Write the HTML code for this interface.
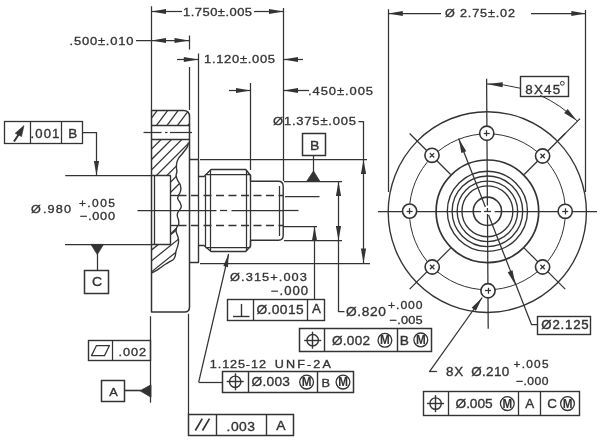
<!DOCTYPE html>
<html><head><meta charset="utf-8"><style>
html,body{margin:0;padding:0;background:#fff;}
svg{display:block;}
text{font-family:"Liberation Sans",sans-serif;}
</style></head><body>
<svg width="600" height="441" viewBox="0 0 600 441"><defs><filter id="g0" x="0" y="0" width="1" height="1" color-interpolation-filters="sRGB"><feColorMatrix type="saturate" values="0"/></filter></defs><g filter="url(#g0)">
<rect width="600" height="441" fill="#fff"/>
<line x1="151.5" y1="6.3" x2="151.5" y2="110.4" stroke="#333" stroke-width="1.25"/>
<line x1="283.5" y1="8" x2="283.5" y2="181" stroke="#333" stroke-width="1.25"/>
<line x1="189.5" y1="35.5" x2="189.5" y2="49.5" stroke="#333" stroke-width="1.25"/>
<line x1="189.5" y1="67" x2="189.5" y2="110" stroke="#333" stroke-width="1.25"/>
<line x1="198.5" y1="53.5" x2="198.5" y2="159" stroke="#333" stroke-width="1.25"/>
<line x1="250.5" y1="83" x2="250.5" y2="170" stroke="#333" stroke-width="1.25"/>
<line x1="151.5" y1="11.5" x2="182" y2="11.5" stroke="#333" stroke-width="1.25"/>
<polygon points="151.50,11.50 166.00,8.90 166.00,14.10" fill="#333"/>
<line x1="254" y1="11.5" x2="283.5" y2="11.5" stroke="#333" stroke-width="1.25"/>
<polygon points="283.50,11.50 269.00,14.10 269.00,8.90" fill="#333"/>
<g transform="translate(183.10000000000002,16.1) scale(1.1,1)"><text x="0" y="0" font-size="11.77" fill="#333" stroke="#333" stroke-width="0.32" text-anchor="start" font-weight="normal" textLength="62.64" lengthAdjust="spacing">1.750±.005</text></g>
<line x1="136" y1="40.5" x2="189" y2="40.5" stroke="#333" stroke-width="1.25"/>
<polygon points="151.50,40.50 166.00,37.90 166.00,43.10" fill="#333"/>
<polygon points="189.00,40.50 174.50,43.10 174.50,37.90" fill="#333"/>
<g transform="translate(69.5,44.8) scale(1.1,1)"><text x="0" y="0" font-size="11.77" fill="#333" stroke="#333" stroke-width="0.32" text-anchor="start" font-weight="normal" textLength="58.18" lengthAdjust="spacing">.500±.010</text></g>
<line x1="177" y1="59.5" x2="198.3" y2="59.5" stroke="#333" stroke-width="1.25"/>
<polygon points="198.30,59.50 183.80,62.10 183.80,56.90" fill="#333"/>
<line x1="283.5" y1="59.5" x2="303" y2="59.5" stroke="#333" stroke-width="1.25"/>
<polygon points="283.50,59.50 298.00,56.90 298.00,62.10" fill="#333"/>
<g transform="translate(204.0,62.6) scale(1.1,1)"><text x="0" y="0" font-size="11.77" fill="#333" stroke="#333" stroke-width="0.32" text-anchor="start" font-weight="normal" textLength="64.55" lengthAdjust="spacing">1.120±.005</text></g>
<line x1="229" y1="90.5" x2="250.5" y2="90.5" stroke="#333" stroke-width="1.25"/>
<polygon points="250.50,90.50 236.00,93.10 236.00,87.90" fill="#333"/>
<line x1="283.5" y1="90.5" x2="309" y2="90.5" stroke="#333" stroke-width="1.25"/>
<polygon points="283.50,90.50 298.00,87.90 298.00,93.10" fill="#333"/>
<g transform="translate(308.0,95.0) scale(1.1,1)"><text x="0" y="0" font-size="11.77" fill="#333" stroke="#333" stroke-width="0.32" text-anchor="start" font-weight="normal" textLength="59.09" lengthAdjust="spacing">.450±.005</text></g>
<g transform="translate(273.0,125.0) scale(1.1,1)"><text x="0" y="0" font-size="11.77" fill="#333" stroke="#333" stroke-width="0.32" text-anchor="start" font-weight="normal" textLength="75.45" lengthAdjust="spacing">Ø1.375±.005</text></g>
<polyline points="358.5,121.5 363.5,121.5 363.5,263" fill="none" stroke="#333" stroke-width="1.25" stroke-linejoin="round"/>
<polygon points="363.50,159.60 366.10,174.10 360.90,174.10" fill="#333"/>
<polygon points="363.50,263.00 360.90,248.50 366.10,248.50" fill="#333"/>
<line x1="200" y1="159.5" x2="367" y2="159.5" stroke="#333" stroke-width="1.25"/>
<line x1="200" y1="263.5" x2="370" y2="263.5" stroke="#333" stroke-width="1.25"/>
<line x1="284" y1="181.5" x2="342" y2="181.5" stroke="#333" stroke-width="1.25"/>
<line x1="284" y1="240.5" x2="342" y2="240.5" stroke="#333" stroke-width="1.25"/>
<polyline points="338.5,181.5 338.5,311.5 344.5,311.5" fill="none" stroke="#333" stroke-width="1.25" stroke-linejoin="round"/>
<polygon points="338.50,181.50 341.10,196.00 335.90,196.00" fill="#333"/>
<polygon points="338.50,240.50 335.90,226.00 341.10,226.00" fill="#333"/>
<g transform="translate(345.9,315.9) scale(1.1,1)"><text x="0" y="0" font-size="12.50" fill="#333" stroke="#333" stroke-width="0.32" text-anchor="start" font-weight="normal" textLength="36.36" lengthAdjust="spacing">Ø.820</text></g>
<g transform="translate(388.0,308.7) scale(1.1,1)"><text x="0" y="0" font-size="11.05" fill="#333" stroke="#333" stroke-width="0.32" text-anchor="start" font-weight="normal" textLength="31.45" lengthAdjust="spacing">+.000</text></g>
<g transform="translate(389.5,324.4) scale(1.1,1)"><text x="0" y="0" font-size="11.63" fill="#333" stroke="#333" stroke-width="0.32" text-anchor="start" font-weight="normal" textLength="30.09" lengthAdjust="spacing">−.005</text></g>
<line x1="285" y1="196.5" x2="319.5" y2="196.5" stroke="#333" stroke-width="1.25"/>
<line x1="283" y1="226.5" x2="317" y2="226.5" stroke="#333" stroke-width="1.25"/>
<line x1="314.5" y1="226.5" x2="314.5" y2="299" stroke="#333" stroke-width="1.25"/>
<polygon points="314.50,226.50 317.10,241.00 311.90,241.00" fill="#333"/>
<line x1="283" y1="210.5" x2="298.5" y2="210.5" stroke="#333" stroke-width="1.25"/>
<g transform="translate(230.10000000000002,280.7) scale(1.1,1)"><text x="0" y="0" font-size="11.63" fill="#333" stroke="#333" stroke-width="0.32" text-anchor="start" font-weight="normal" textLength="69.82" lengthAdjust="spacing">Ø.315+.003</text></g>
<g transform="translate(271.0,294.5) scale(1.1,1)"><text x="0" y="0" font-size="11.92" fill="#333" stroke="#333" stroke-width="0.32" text-anchor="start" font-weight="normal" textLength="33.64" lengthAdjust="spacing">−.000</text></g>
<rect x="302.5" y="133.5" width="23.0" height="22.0" fill="none" stroke="#333" stroke-width="1.5"/>
<g transform="translate(314.8,150.0) scale(1.1,1)"><text x="0" y="0" font-size="12.79" fill="#333" stroke="#333" stroke-width="0.35" text-anchor="middle" font-weight="normal">B</text></g>
<line x1="313.5" y1="156" x2="313.5" y2="172" stroke="#333" stroke-width="1.25"/>
<polygon points="313.5,171 306.5,181.5 320,181.5" fill="#333" stroke="#333" stroke-width="0.8" stroke-linejoin="round"/>
<line x1="137.5" y1="210.5" x2="216.5" y2="210.5" stroke="#333" stroke-width="1.25"/>
<line x1="220" y1="210.5" x2="227" y2="210.5" stroke="#333" stroke-width="1.25"/>
<line x1="231.5" y1="210.5" x2="283.2" y2="210.5" stroke="#333" stroke-width="1.25"/>
<path d="M151.5,110.5 L183.5,110.5 Q189.5,110.5 189.5,116.5 L189.5,307.0 Q189.5,312.0 184.5,312.0 L151.5,312.0 Z" fill="none" stroke="#333" stroke-width="1.5" stroke-linejoin="round"/>
<line x1="151.5" y1="125.5" x2="189.5" y2="125.5" stroke="#333" stroke-width="1.5"/>
<line x1="151.5" y1="139.5" x2="189.5" y2="139.5" stroke="#333" stroke-width="1.5"/>
<line x1="143.5" y1="132.5" x2="161.5" y2="132.5" stroke="#333" stroke-width="1.25"/>
<line x1="165" y1="132.5" x2="167.5" y2="132.5" stroke="#333" stroke-width="1.25"/>
<line x1="170" y1="132.5" x2="192" y2="132.5" stroke="#333" stroke-width="1.25"/>
<line x1="154.5" y1="175.6" x2="154.5" y2="244.3" stroke="#333" stroke-width="1.3"/>
<line x1="170.5" y1="175.6" x2="170.5" y2="244.3" stroke="#333" stroke-width="1.4"/>
<line x1="151.5" y1="175.5" x2="170.8" y2="175.5" stroke="#333" stroke-width="1.5"/>
<line x1="151.5" y1="244.5" x2="170.8" y2="244.5" stroke="#333" stroke-width="1.5"/>
<path d="M188.50,142.50 C188.28,143.27 188.20,145.27 187.20,147.10 C186.20,148.93 183.95,151.63 182.50,153.50 C181.05,155.37 179.43,156.85 178.50,158.30 C177.57,159.75 177.25,160.75 176.90,162.20 C176.55,163.65 176.40,165.42 176.40,167.00 C176.40,168.58 176.95,170.25 176.90,171.70 C176.85,173.15 175.97,174.23 176.10,175.70 C176.23,177.17 177.03,179.05 177.70,180.50 C178.37,181.95 179.57,183.08 180.10,184.40 C180.63,185.72 180.90,187.07 180.90,188.40 C180.90,189.73 180.50,191.20 180.10,192.40 C179.70,193.60 178.90,194.55 178.50,195.60 C178.10,196.65 177.43,197.52 177.70,198.70 C177.97,199.88 179.50,201.37 180.10,202.70 C180.70,204.03 181.40,205.48 181.30,206.70 C181.20,207.92 180.12,208.95 179.50,210.00 C178.88,211.05 177.95,211.92 177.60,213.00 C177.25,214.08 177.23,215.28 177.40,216.50 C177.57,217.72 178.40,218.95 178.60,220.30 C178.80,221.65 178.88,223.47 178.60,224.60 C178.32,225.73 177.32,225.97 176.90,227.10 C176.48,228.23 175.95,229.83 176.10,231.40 C176.25,232.97 177.38,234.95 177.80,236.50 C178.22,238.05 178.60,239.15 178.60,240.70 C178.60,242.25 178.22,244.10 177.80,245.80 C177.38,247.50 176.53,249.20 176.10,250.90 C175.67,252.60 175.63,254.58 175.20,256.00 C174.77,257.42 174.35,258.52 173.50,259.40 C172.65,260.28 171.52,260.45 170.10,261.30 C168.68,262.15 166.68,263.38 165.00,264.50 C163.32,265.62 161.57,266.93 160.00,268.00 C158.43,269.07 157.02,270.07 155.60,270.90 C154.18,271.73 152.18,272.65 151.50,273.00" fill="none" stroke="#333" stroke-width="1.35" stroke-linejoin="round"/>
<line x1="170.8" y1="195.5" x2="178.6" y2="195.5" stroke="#333" stroke-width="1.4"/>
<line x1="170.8" y1="225.5" x2="178.4" y2="225.5" stroke="#333" stroke-width="1.4"/>
<clipPath id="h1"><path d="M151.5,110.5 L183.5,110.5 Q189.5,110.5 189.5,116.5 L189.5,125.4 L151.5,125.4 Z"/></clipPath>
<g clip-path="url(#h1)"><line x1="123.71" y1="155.30" x2="168.49" y2="95.30" stroke="#333" stroke-width="1.25"/><line x1="134.21" y1="155.30" x2="178.99" y2="95.30" stroke="#333" stroke-width="1.25"/><line x1="144.71" y1="155.30" x2="189.49" y2="95.30" stroke="#333" stroke-width="1.25"/><line x1="155.21" y1="155.30" x2="199.99" y2="95.30" stroke="#333" stroke-width="1.25"/><line x1="165.71" y1="155.30" x2="210.49" y2="95.30" stroke="#333" stroke-width="1.25"/></g>
<clipPath id="h2"><path d="M151.5,139.9 L185.5,139.9 Q188.5,139.9 188.5,142.5 C188.28,143.27 188.20,145.27 187.20,147.10 C186.20,148.93 183.95,151.63 182.50,153.50 C181.05,155.37 179.43,156.85 178.50,158.30 C177.57,159.75 177.25,160.75 176.90,162.20 C176.55,163.65 176.40,165.42 176.40,167.00 C176.40,168.58 176.95,170.25 176.90,171.70 C176.85,173.15 175.97,174.23 176.10,175.70 C176.23,177.17 177.03,179.05 177.70,180.50 C178.37,181.95 179.57,183.08 180.10,184.40 C180.63,185.72 180.90,187.07 180.90,188.40 C180.90,189.73 180.50,191.20 180.10,192.40 C179.70,193.60 178.77,195.07 178.50,195.60 L178.5,195.7 L170.8,195.7 L170.8,175.6 L151.5,175.6 Z"/></clipPath>
<g clip-path="url(#h2)"><line x1="0.60" y1="300.00" x2="200.60" y2="100.00" stroke="#333" stroke-width="1.25"/><line x1="11.00" y1="300.00" x2="211.00" y2="100.00" stroke="#333" stroke-width="1.25"/><line x1="21.30" y1="300.00" x2="221.30" y2="100.00" stroke="#333" stroke-width="1.25"/><line x1="31.80" y1="300.00" x2="231.80" y2="100.00" stroke="#333" stroke-width="1.25"/><line x1="42.30" y1="300.00" x2="242.30" y2="100.00" stroke="#333" stroke-width="1.25"/><line x1="52.60" y1="300.00" x2="252.60" y2="100.00" stroke="#333" stroke-width="1.25"/><line x1="63.00" y1="300.00" x2="263.00" y2="100.00" stroke="#333" stroke-width="1.25"/></g>
<clipPath id="h3"><path d="M170.8,225.8 L178.6,225.8 C178.32,225.02 177.32,225.97 176.90,227.10 C176.48,228.23 175.95,229.83 176.10,231.40 C176.25,232.97 177.38,234.95 177.80,236.50 C178.22,238.05 178.60,239.15 178.60,240.70 C178.60,242.25 178.22,244.10 177.80,245.80 C177.38,247.50 176.53,249.20 176.10,250.90 C175.67,252.60 175.63,254.58 175.20,256.00 C174.77,257.42 174.35,258.52 173.50,259.40 C172.65,260.28 171.52,260.45 170.10,261.30 C168.68,262.15 166.68,263.38 165.00,264.50 C163.32,265.62 161.57,266.93 160.00,268.00 C158.43,269.07 157.02,270.07 155.60,270.90 C154.18,271.73 152.18,272.65 151.50,273.00 L151.5,244.3 L170.8,244.3 Z"/></clipPath>
<g clip-path="url(#h3)"><line x1="170.80" y1="233.70" x2="181.00" y2="223.50" stroke="#333" stroke-width="1.25"/><line x1="140.00" y1="259.20" x2="190.00" y2="219.20" stroke="#333" stroke-width="1.25"/><line x1="140.00" y1="270.00" x2="190.00" y2="230.00" stroke="#333" stroke-width="1.25"/><line x1="140.00" y1="281.00" x2="190.00" y2="241.00" stroke="#333" stroke-width="1.25"/></g>
<polyline points="189,159.5 198.5,159.5 198.5,176.5 204,176.5 211,169.5 245.8,169.5 250.5,175.5 250.5,181.3" fill="none" stroke="#333" stroke-width="1.4" stroke-linejoin="round"/>
<polyline points="189,262.5 198.5,262.5 198.5,245.5 204,245.5 211,251.5 245.8,251.5 250.5,246 250.5,240.2" fill="none" stroke="#333" stroke-width="1.4" stroke-linejoin="round"/>
<line x1="198.5" y1="176.5" x2="198.5" y2="245.5" stroke="#333" stroke-width="1.3"/>
<line x1="205.5" y1="174.5" x2="250.6" y2="174.5" stroke="#333" stroke-width="1.25"/>
<line x1="205.5" y1="247.5" x2="250.6" y2="247.5" stroke="#333" stroke-width="1.25"/>
<line x1="205.5" y1="176" x2="205.5" y2="246" stroke="#333" stroke-width="1.25"/>
<line x1="210.5" y1="170" x2="210.5" y2="251" stroke="#333" stroke-width="1.25"/>
<line x1="246.5" y1="170" x2="246.5" y2="251" stroke="#333" stroke-width="1.25"/>
<line x1="250.5" y1="175.5" x2="250.5" y2="246" stroke="#333" stroke-width="1.3"/>
<path d="M250.6,181.3 L278.5,181.3 Q283.2,181.3 283.2,186.5 L283.2,235 Q283.2,240.2 278.5,240.2 L250.6,240.2" fill="none" stroke="#333" stroke-width="1.4" stroke-linejoin="round"/>
<line x1="279.5" y1="186" x2="279.5" y2="236" stroke="#333" stroke-width="1.25"/>
<line x1="178.5" y1="195.5" x2="283.2" y2="195.5" stroke="#333" stroke-width="1.3" stroke-dasharray="8 4.5"/>
<line x1="178.5" y1="225.5" x2="283.2" y2="225.5" stroke="#333" stroke-width="1.3" stroke-dasharray="8 4.5"/>
<rect x="4.5" y="121.5" width="78.0" height="22.0" fill="none" stroke="#333" stroke-width="1.3"/>
<line x1="30.5" y1="121.6" x2="30.5" y2="143.3" stroke="#333" stroke-width="1.25"/>
<line x1="61.5" y1="121.6" x2="61.5" y2="143.3" stroke="#333" stroke-width="1.25"/>
<line x1="14" y1="141.5" x2="19" y2="134" stroke="#333" stroke-width="2.0"/>
<polygon points="24,125.5 15.2,133.3 21.5,136.5" fill="#333" stroke="#333" stroke-width="0.6" stroke-linejoin="round"/>
<g transform="translate(30.6,137.6) scale(1.1,1)"><text x="0" y="0" font-size="11.92" fill="#333" stroke="#333" stroke-width="0.32" text-anchor="start" font-weight="normal" textLength="26.18" lengthAdjust="spacing">.001</text></g>
<g transform="translate(72.8,137.7) scale(1.1,1)"><text x="0" y="0" font-size="12.21" fill="#333" stroke="#333" stroke-width="0.35" text-anchor="middle" font-weight="normal">B</text></g>
<polyline points="82.7,132.5 96.5,132.5 96.5,175.5" fill="none" stroke="#333" stroke-width="1.25" stroke-linejoin="round"/>
<polygon points="96.50,175.50 93.90,161.00 99.10,161.00" fill="#333"/>
<line x1="65.3" y1="175.5" x2="151.2" y2="175.5" stroke="#333" stroke-width="1.25"/>
<g transform="translate(30.9,213.3) scale(1.1,1)"><text x="0" y="0" font-size="11.48" fill="#333" stroke="#333" stroke-width="0.32" text-anchor="start" font-weight="normal" textLength="-1.36" lengthAdjust="spacing">Ø</text></g>
<g transform="translate(42.900000000000006,213.3) scale(1.1,1)"><text x="0" y="0" font-size="11.48" fill="#333" stroke="#333" stroke-width="0.32" text-anchor="start" font-weight="normal" textLength="25.45" lengthAdjust="spacing">.980</text></g>
<g transform="translate(78.9,206.7) scale(1.1,1)"><text x="0" y="0" font-size="10.90" fill="#333" stroke="#333" stroke-width="0.32" text-anchor="start" font-weight="normal" textLength="32.82" lengthAdjust="spacing">+.005</text></g>
<g transform="translate(79.9,219.7) scale(1.1,1)"><text x="0" y="0" font-size="11.63" fill="#333" stroke="#333" stroke-width="0.32" text-anchor="start" font-weight="normal" textLength="31.91" lengthAdjust="spacing">−.000</text></g>
<line x1="65" y1="244.5" x2="151.2" y2="244.5" stroke="#333" stroke-width="1.25"/>
<polygon points="91,244.4 103.5,244.4 97.3,254.5" fill="#333" stroke="#333" stroke-width="0.8" stroke-linejoin="round"/>
<line x1="97.5" y1="254" x2="97.5" y2="270.3" stroke="#333" stroke-width="1.25"/>
<rect x="84.5" y="270.5" width="24.0" height="23.0" fill="none" stroke="#333" stroke-width="1.5"/>
<g transform="translate(97.1,286.1) scale(1.1,1)"><text x="0" y="0" font-size="12.79" fill="#333" stroke="#333" stroke-width="0.35" text-anchor="middle" font-weight="normal">C</text></g>
<line x1="150.5" y1="316.3" x2="150.5" y2="402.7" stroke="#333" stroke-width="1.25"/>
<rect x="88.5" y="340.5" width="62.0" height="20.0" fill="none" stroke="#333" stroke-width="1.4"/>
<line x1="112.5" y1="340.4" x2="112.5" y2="360.4" stroke="#333" stroke-width="1.25"/>
<polygon points="91.5,355.6 96.5,345.5 109.5,345.5 104.5,355.6" fill="none" stroke="#333" stroke-width="1.25" stroke-linejoin="round"/>
<g transform="translate(118.6,355.7) scale(1.1,1)"><text x="0" y="0" font-size="11.63" fill="#333" stroke="#333" stroke-width="0.32" text-anchor="start" font-weight="normal" textLength="25.00" lengthAdjust="spacing">.002</text></g>
<rect x="101.5" y="380.5" width="23.0" height="21.0" fill="none" stroke="#333" stroke-width="1.5"/>
<g transform="translate(113.6,395.7) scale(1.1,1)"><text x="0" y="0" font-size="11.63" fill="#333" stroke="#333" stroke-width="0.3" text-anchor="middle" font-weight="normal">A</text></g>
<line x1="124.5" y1="390.5" x2="141" y2="390.5" stroke="#333" stroke-width="1.6"/>
<polygon points="151,384.8 151,397.2 140,390.8" fill="#333" stroke="#333" stroke-width="0.8" stroke-linejoin="round"/>
<line x1="188.5" y1="313.8" x2="188.5" y2="415" stroke="#333" stroke-width="1.25"/>
<rect x="188.5" y="414.5" width="105.0" height="21.0" fill="none" stroke="#333" stroke-width="1.5"/>
<line x1="216.5" y1="414.7" x2="216.5" y2="435.2" stroke="#333" stroke-width="1.4"/>
<line x1="266.5" y1="414.7" x2="266.5" y2="435.2" stroke="#333" stroke-width="1.4"/>
<line x1="195.3" y1="430.5" x2="202.3" y2="418.6" stroke="#333" stroke-width="1.7"/>
<line x1="202.5" y1="430.5" x2="209.5" y2="418.6" stroke="#333" stroke-width="1.7"/>
<g transform="translate(226.60000000000002,430.9) scale(1.1,1)"><text x="0" y="0" font-size="12.65" fill="#333" stroke="#333" stroke-width="0.32" text-anchor="start" font-weight="normal" textLength="25.82" lengthAdjust="spacing">.003</text></g>
<g transform="translate(280.9,429.8) scale(1.1,1)"><text x="0" y="0" font-size="12.65" fill="#333" stroke="#333" stroke-width="0.35" text-anchor="middle" font-weight="normal">A</text></g>
<rect x="227.5" y="299.5" width="97.0" height="21.0" fill="none" stroke="#333" stroke-width="1.4"/>
<line x1="253.5" y1="299.2" x2="253.5" y2="320.5" stroke="#333" stroke-width="1.3"/>
<line x1="307.5" y1="299.2" x2="307.5" y2="320.5" stroke="#333" stroke-width="1.3"/>
<line x1="233" y1="316.5" x2="249.5" y2="316.5" stroke="#333" stroke-width="1.4"/>
<line x1="241.5" y1="303.9" x2="241.5" y2="316" stroke="#333" stroke-width="1.4"/>
<g transform="translate(256.5,313.6) scale(1.1,1)"><text x="0" y="0" font-size="12.50" fill="#333" stroke="#333" stroke-width="0.32" text-anchor="start" font-weight="normal" textLength="42.82" lengthAdjust="spacing">Ø.0015</text></g>
<g transform="translate(316.3,312.7) scale(1.1,1)"><text x="0" y="0" font-size="12.06" fill="#333" stroke="#333" stroke-width="0.35" text-anchor="middle" font-weight="normal">A</text></g>
<rect x="299.5" y="328.5" width="132.0" height="23.0" fill="none" stroke="#333" stroke-width="1.5"/>
<line x1="324.5" y1="328" x2="324.5" y2="351.5" stroke="#333" stroke-width="1.4"/>
<line x1="397.5" y1="328" x2="397.5" y2="351.5" stroke="#333" stroke-width="1.4"/>
<circle cx="312.7" cy="340.2" r="5.7" fill="none" stroke="#333" stroke-width="1.4"/>
<line x1="304.2" y1="340.5" x2="321.2" y2="340.5" stroke="#333" stroke-width="1.4"/>
<line x1="312.5" y1="331.7" x2="312.5" y2="348.7" stroke="#333" stroke-width="1.4"/>
<g transform="translate(332.0,345.0) scale(1.1,1)"><text x="0" y="0" font-size="12.35" fill="#333" stroke="#333" stroke-width="0.32" text-anchor="start" font-weight="normal" textLength="34.55" lengthAdjust="spacing">Ø.002</text></g>
<circle cx="384.9" cy="340.3" r="6.9" fill="none" stroke="#333" stroke-width="1.3"/>
<g transform="translate(384.9,344.40000000000003) scale(0.98,1)"><text x="0" y="0" font-size="11.92" fill="#333" stroke="#333" stroke-width="0.1" text-anchor="middle" font-weight="bold">M</text></g>
<g transform="translate(404.3,344.9) scale(1.1,1)"><text x="0" y="0" font-size="12.50" fill="#333" stroke="#333" stroke-width="0.35" text-anchor="middle" font-weight="normal">B</text></g>
<circle cx="420.8" cy="339.9" r="6.9" fill="none" stroke="#333" stroke-width="1.3"/>
<g transform="translate(420.8,344.0) scale(0.98,1)"><text x="0" y="0" font-size="11.92" fill="#333" stroke="#333" stroke-width="0.1" text-anchor="middle" font-weight="bold">M</text></g>
<g transform="translate(209.8,368.3) scale(1.1,1)"><text x="0" y="0" font-size="11.48" fill="#333" stroke="#333" stroke-width="0.32" text-anchor="start" font-weight="normal" textLength="51.00" lengthAdjust="spacing">1.125-12</text></g>
<g transform="translate(274.79999999999995,368.3) scale(1.1,1)"><text x="0" y="0" font-size="11.48" fill="#333" stroke="#333" stroke-width="0.32" text-anchor="start" font-weight="normal" textLength="51.00" lengthAdjust="spacing">UNF-2A</text></g>
<line x1="228.6" y1="254" x2="198.7" y2="382.2" stroke="#333" stroke-width="1.25"/>
<polygon points="228.60,254.00 227.98,267.21 223.31,266.12" fill="#333"/>
<line x1="198.7" y1="382.5" x2="222.5" y2="382.5" stroke="#333" stroke-width="1.25"/>
<rect x="222.5" y="371.5" width="131.0" height="21.0" fill="none" stroke="#333" stroke-width="1.5"/>
<line x1="248.5" y1="371.5" x2="248.5" y2="392.0" stroke="#333" stroke-width="1.4"/>
<line x1="317.5" y1="371.5" x2="317.5" y2="392.0" stroke="#333" stroke-width="1.4"/>
<circle cx="235.2" cy="381.8" r="5.7" fill="none" stroke="#333" stroke-width="1.4"/>
<line x1="226.7" y1="381.5" x2="243.7" y2="381.5" stroke="#333" stroke-width="1.4"/>
<line x1="235.5" y1="373.3" x2="235.5" y2="390.3" stroke="#333" stroke-width="1.4"/>
<g transform="translate(251.5,386.4) scale(1.1,1)"><text x="0" y="0" font-size="12.50" fill="#333" stroke="#333" stroke-width="0.32" text-anchor="start" font-weight="normal" textLength="35.00" lengthAdjust="spacing">Ø.003</text></g>
<circle cx="306.6" cy="382.1" r="6.9" fill="none" stroke="#333" stroke-width="1.3"/>
<g transform="translate(306.6,386.20000000000005) scale(0.98,1)"><text x="0" y="0" font-size="11.92" fill="#333" stroke="#333" stroke-width="0.1" text-anchor="middle" font-weight="bold">M</text></g>
<g transform="translate(325.8,386.6) scale(1.1,1)"><text x="0" y="0" font-size="11.63" fill="#333" stroke="#333" stroke-width="0.35" text-anchor="middle" font-weight="normal">B</text></g>
<circle cx="343.0" cy="382.1" r="6.9" fill="none" stroke="#333" stroke-width="1.3"/>
<g transform="translate(343.0,386.20000000000005) scale(0.98,1)"><text x="0" y="0" font-size="11.92" fill="#333" stroke="#333" stroke-width="0.1" text-anchor="middle" font-weight="bold">M</text></g>
<line x1="388.5" y1="9.2" x2="388.5" y2="192" stroke="#333" stroke-width="1.25"/>
<line x1="585.5" y1="10" x2="585.5" y2="192" stroke="#333" stroke-width="1.25"/>
<line x1="388.3" y1="13.5" x2="441" y2="13.5" stroke="#333" stroke-width="1.25"/>
<polygon points="388.30,13.50 402.80,10.90 402.80,16.10" fill="#333"/>
<line x1="531" y1="13.5" x2="585.8" y2="13.5" stroke="#333" stroke-width="1.25"/>
<polygon points="585.80,13.50 571.30,16.10 571.30,10.90" fill="#333"/>
<g transform="translate(445.0,17.3) scale(1.1,1)"><text x="0" y="0" font-size="11.48" fill="#333" stroke="#333" stroke-width="0.32" text-anchor="start" font-weight="normal" textLength="6.73" lengthAdjust="spacing">Ø</text></g>
<g transform="translate(460.0,17.3) scale(1.1,1)"><text x="0" y="0" font-size="11.48" fill="#333" stroke="#333" stroke-width="0.32" text-anchor="start" font-weight="normal" textLength="50.00" lengthAdjust="spacing">2.75±.02</text></g>
<ellipse cx="487.3" cy="212.1" rx="99.1" ry="100.4" fill="none" stroke="#333" stroke-width="1.35"/>
<circle cx="487.4" cy="211.8" r="78.0" fill="none" stroke="#333" stroke-width="1.0"/>
<circle cx="487.4" cy="211.3" r="51.3" fill="none" stroke="#333" stroke-width="1.7"/>
<circle cx="487.4" cy="211.3" r="40.1" fill="none" stroke="#333" stroke-width="1.35"/>
<circle cx="487.4" cy="211.3" r="35.3" fill="none" stroke="#333" stroke-width="1.35"/>
<circle cx="487.4" cy="211.3" r="30.25" fill="none" stroke="#333" stroke-width="1.35"/>
<circle cx="487.4" cy="211.3" r="25.45" fill="none" stroke="#333" stroke-width="1.35"/>
<circle cx="487.4" cy="211.3" r="14.15" fill="none" stroke="#333" stroke-width="1.6"/>
<line x1="486.6" y1="78.7" x2="487.41" y2="205.5" stroke="#333" stroke-width="1.25"/>
<line x1="487.43" y1="208.0" x2="487.45" y2="211.0" stroke="#333" stroke-width="1.25"/>
<line x1="487.47" y1="214.0" x2="488.2" y2="328.8" stroke="#333" stroke-width="1.25"/>
<line x1="378" y1="211.5" x2="481.1" y2="211.5" stroke="#333" stroke-width="1.25"/>
<line x1="483.9" y1="211.5" x2="491.0" y2="211.5" stroke="#333" stroke-width="1.25"/>
<line x1="494.6" y1="211.5" x2="597" y2="211.5" stroke="#333" stroke-width="1.25"/>
<line x1="524.1695526217004" y1="174.53044737829953" x2="565.1817459305203" y2="133.51825406947978" stroke="#333" stroke-width="1.25"/>
<line x1="450.6304473782995" y1="174.53044737829953" x2="409.61825406947975" y2="133.51825406947978" stroke="#333" stroke-width="1.25"/>
<line x1="450.6304473782995" y1="248.0695526217005" x2="409.61825406947975" y2="289.08174593052024" stroke="#333" stroke-width="1.25"/>
<line x1="524.1695526217004" y1="248.0695526217005" x2="565.1817459305202" y2="289.08174593052024" stroke="#333" stroke-width="1.25"/>
<circle cx="486.75" cy="133.25" r="7.1" fill="#fff" stroke="#333" stroke-width="1.6"/>
<line x1="483.75" y1="133.5" x2="489.75" y2="133.5" stroke="#333" stroke-width="1.25"/>
<line x1="486.5" y1="130.25" x2="486.5" y2="136.25" stroke="#333" stroke-width="1.25"/>
<circle cx="542.6" cy="156.0" r="7.1" fill="#fff" stroke="#333" stroke-width="1.6"/>
<line x1="540.4" y1="153.8" x2="544.8000000000001" y2="158.2" stroke="#333" stroke-width="1.25"/>
<line x1="540.4" y1="158.2" x2="544.8000000000001" y2="153.8" stroke="#333" stroke-width="1.25"/>
<circle cx="565.2" cy="211.3" r="7.1" fill="#fff" stroke="#333" stroke-width="1.6"/>
<line x1="562.2" y1="211.5" x2="568.2" y2="211.5" stroke="#333" stroke-width="1.25"/>
<line x1="565.5" y1="208.3" x2="565.5" y2="214.3" stroke="#333" stroke-width="1.25"/>
<circle cx="542.6" cy="267.0" r="7.1" fill="#fff" stroke="#333" stroke-width="1.6"/>
<line x1="540.4" y1="264.8" x2="544.8000000000001" y2="269.2" stroke="#333" stroke-width="1.25"/>
<line x1="540.4" y1="269.2" x2="544.8000000000001" y2="264.8" stroke="#333" stroke-width="1.25"/>
<circle cx="488.0" cy="290.75" r="7.1" fill="#fff" stroke="#333" stroke-width="1.6"/>
<line x1="485.0" y1="290.5" x2="491.0" y2="290.5" stroke="#333" stroke-width="1.25"/>
<line x1="488.5" y1="287.75" x2="488.5" y2="293.75" stroke="#333" stroke-width="1.25"/>
<circle cx="432.2" cy="267.0" r="7.1" fill="#fff" stroke="#333" stroke-width="1.6"/>
<line x1="430.0" y1="264.8" x2="434.4" y2="269.2" stroke="#333" stroke-width="1.25"/>
<line x1="430.0" y1="269.2" x2="434.4" y2="264.8" stroke="#333" stroke-width="1.25"/>
<circle cx="409.6" cy="211.1" r="7.1" fill="#fff" stroke="#333" stroke-width="1.6"/>
<line x1="406.6" y1="211.5" x2="412.6" y2="211.5" stroke="#333" stroke-width="1.25"/>
<line x1="409.5" y1="208.1" x2="409.5" y2="214.1" stroke="#333" stroke-width="1.25"/>
<circle cx="432.0" cy="155.3" r="7.1" fill="#fff" stroke="#333" stroke-width="1.6"/>
<line x1="429.8" y1="153.10000000000002" x2="434.2" y2="157.5" stroke="#333" stroke-width="1.25"/>
<line x1="429.8" y1="157.5" x2="434.2" y2="153.10000000000002" stroke="#333" stroke-width="1.25"/>
<rect x="520.5" y="76.5" width="48.0" height="20.0" fill="none" stroke="#333" stroke-width="1.4"/>
<g transform="translate(525.2,93.6) scale(1.1,1)"><text x="0" y="0" font-size="12.21" fill="#333" stroke="#333" stroke-width="0.32" text-anchor="start" font-weight="normal" textLength="31.91" lengthAdjust="spacing">8X45</text></g>
<circle cx="562.3" cy="83.3" r="1.9" fill="none" stroke="#333" stroke-width="1.0"/>
<path d="M486.73,83.90 A127.4,127.4 0 0 1 520.37,88.24" fill="none" stroke="#333" stroke-width="1.0"/>
<path d="M540.23,95.37 A127.4,127.4 0 0 1 577.17,120.90" fill="none" stroke="#333" stroke-width="1.0"/>
<polygon points="486.73,83.90 502.85,82.17 502.57,87.36" fill="#333"/>
<polygon points="577.17,120.90 564.20,112.93 567.64,109.03" fill="#333"/>
<line x1="558.1106781186547" y1="140.58932188134526" x2="580.0309883354378" y2="118.66901166456229" stroke="#333" stroke-width="1.25"/>
<line x1="458.6" y1="138.6" x2="485.39" y2="207.0" stroke="#333" stroke-width="1.25"/>
<polyline points="488.53,215.0 531.5,324.5 537.5,324.5" fill="none" stroke="#333" stroke-width="1.25" stroke-linejoin="round"/>
<polygon points="458.60,138.60 466.27,151.18 461.42,153.06" fill="#333"/>
<polygon points="515.30,284.80 507.67,272.20 512.52,270.33" fill="#333"/>
<g transform="translate(541.3,329.4) scale(1.1,1)"><text x="0" y="0" font-size="12.06" fill="#333" stroke="#333" stroke-width="0.4" text-anchor="start" font-weight="normal" textLength="43.09" lengthAdjust="spacing">Ø2.125</text></g>
<rect x="537.5" y="316.5" width="53.0" height="18.0" fill="none" stroke="#333" stroke-width="1.4"/>
<line x1="482.2" y1="297.5" x2="429.3" y2="371.9" stroke="#333" stroke-width="1.25"/>
<polygon points="482.20,297.50 475.92,310.82 471.68,307.81" fill="#333"/>
<line x1="429.3" y1="371.5" x2="436.9" y2="371.5" stroke="#333" stroke-width="1.25"/>
<g transform="translate(445.9,376.0) scale(1.1,1)"><text x="0" y="0" font-size="12.21" fill="#333" stroke="#333" stroke-width="0.32" text-anchor="start" font-weight="normal" textLength="15.82" lengthAdjust="spacing">8X</text></g>
<g transform="translate(471.20000000000005,376.0) scale(1.1,1)"><text x="0" y="0" font-size="12.21" fill="#333" stroke="#333" stroke-width="0.32" text-anchor="start" font-weight="normal" textLength="34.55" lengthAdjust="spacing">Ø.210</text></g>
<g transform="translate(513.5999999999999,368.4) scale(1.1,1)"><text x="0" y="0" font-size="10.76" fill="#333" stroke="#333" stroke-width="0.32" text-anchor="start" font-weight="normal" textLength="31.73" lengthAdjust="spacing">+.005</text></g>
<g transform="translate(516.0,384.5) scale(1.1,1)"><text x="0" y="0" font-size="11.05" fill="#333" stroke="#333" stroke-width="0.32" text-anchor="start" font-weight="normal" textLength="29.55" lengthAdjust="spacing">−.000</text></g>
<rect x="423.5" y="391.5" width="156.0" height="24.0" fill="none" stroke="#333" stroke-width="1.4"/>
<line x1="448.5" y1="391.3" x2="448.5" y2="415.5" stroke="#333" stroke-width="1.3"/>
<line x1="518.5" y1="391.3" x2="518.5" y2="415.5" stroke="#333" stroke-width="1.3"/>
<line x1="540.5" y1="391.3" x2="540.5" y2="415.5" stroke="#333" stroke-width="1.3"/>
<circle cx="435.6" cy="403.6" r="5.7" fill="none" stroke="#333" stroke-width="1.4"/>
<line x1="427.1" y1="403.5" x2="444.1" y2="403.5" stroke="#333" stroke-width="1.4"/>
<line x1="435.5" y1="395.1" x2="435.5" y2="412.1" stroke="#333" stroke-width="1.4"/>
<g transform="translate(455.6,408.3) scale(1.1,1)"><text x="0" y="0" font-size="12.50" fill="#333" stroke="#333" stroke-width="0.32" text-anchor="start" font-weight="normal" textLength="33.64" lengthAdjust="spacing">Ø.005</text></g>
<circle cx="507.3" cy="403.6" r="6.9" fill="none" stroke="#333" stroke-width="1.3"/>
<g transform="translate(507.3,407.70000000000005) scale(0.98,1)"><text x="0" y="0" font-size="11.92" fill="#333" stroke="#333" stroke-width="0.1" text-anchor="middle" font-weight="bold">M</text></g>
<g transform="translate(529.8,408.3) scale(1.1,1)"><text x="0" y="0" font-size="12.21" fill="#333" stroke="#333" stroke-width="0.32" text-anchor="middle" font-weight="normal">A</text></g>
<g transform="translate(552,408.3) scale(1.1,1)"><text x="0" y="0" font-size="12.21" fill="#333" stroke="#333" stroke-width="0.32" text-anchor="middle" font-weight="normal">C</text></g>
<circle cx="567.5" cy="403.6" r="6.9" fill="none" stroke="#333" stroke-width="1.3"/>
<g transform="translate(567.5,407.70000000000005) scale(0.98,1)"><text x="0" y="0" font-size="11.92" fill="#333" stroke="#333" stroke-width="0.1" text-anchor="middle" font-weight="bold">M</text></g>
</g></svg></body></html>
